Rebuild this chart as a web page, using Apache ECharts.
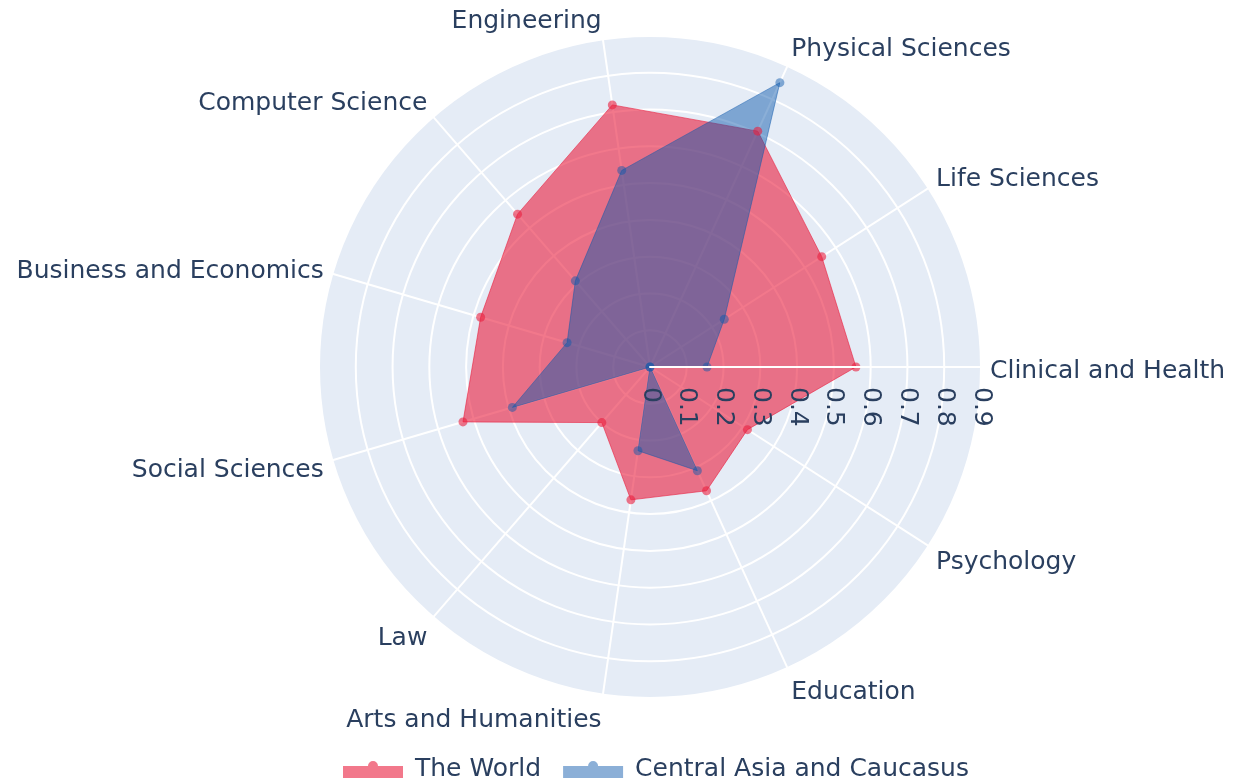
<!DOCTYPE html>
<html>
<head>
<meta charset="utf-8">
<title>The World vs Central Asia and Caucasus</title>
<script src="https://cdn.jsdelivr.net/npm/echarts@6.0.0/dist/echarts.min.js"></script>
<style>
    html, body { margin: 0; padding: 0; background: #fff; }
    #chart { width: 1250px; height: 781px; }
</style>
</head>
<body>
<div id="chart"></div>
<script>
'use strict';

var categories = ['Clinical and Health', 'Life Sciences', 'Physical Sciences', 'Engineering',
    'Computer Science', 'Business and Economics', 'Social Sciences', 'Law',
    'Arts and Humanities', 'Education', 'Psychology'];
var worldValues = [0.56, 0.555, 0.705, 0.72, 0.55, 0.48, 0.53, 0.20, 0.365, 0.37, 0.315];
var centralAsiaValues = [0.155, 0.24, 0.85, 0.54, 0.31, 0.235, 0.39, 0, 0.23, 0.31, 0];
var seriesNames = ['The World', 'Central Asia and Caucasus'];
var radialMax = 0.9;
var radialStep = 0.1;

var FONT = '"DejaVu Sans", Verdana, sans-serif';
var TEXT = '#2a3f5f';
var FONT_SIZE = 25;
var CENTER = [650, 367];
var RADIUS = 331;
var LEGEND_ICON = 'path://M0,6L25,6A5,5,0,0,1,35,6L60,6L60,18L0,18Z';

// plotly nudges the angular labels up in the top half and down in the bottom half;
// one rich style per spoke, padding moves the text by (top - bottom) / 2
var nameRich = {};
categories.forEach(function (name, i) {
    var s = Math.sin(i * 2 * Math.PI / categories.length);
    var shift = 4 - 13.5 * s;
    nameRich['a' + i] = {
        color: TEXT,
        fontSize: FONT_SIZE,
        fontFamily: FONT,
        padding: shift > 0 ? [2 * shift, 0, 0, 0] : [0, 0, -2 * shift, 0]
    };
});

var indicators = categories.map(function (name) {
    return {name: name, min: 0, max: radialMax};
});

function areaItem(name, values, color) {
    return {
        name: name,
        value: values,
        symbol: 'circle',
        symbolSize: 9,
        itemStyle: {color: color},
        lineStyle: {color: color, width: 1},
        areaStyle: {color: color, opacity: 1}
    };
}

var chart = echarts.init(document.getElementById('chart'));

chart.setOption({
    animation: false,
    textStyle: {fontFamily: FONT},
    legend: {
        left: 338,
        top: 752,
        icon: LEGEND_ICON,
        itemWidth: 60,
        itemHeight: 18,
        itemGap: 22,
        textStyle: {color: TEXT, fontSize: FONT_SIZE, fontFamily: FONT, padding: [0, 0, 0, 7]},
        data: seriesNames
    },
    radar: {
        center: CENTER,
        radius: RADIUS,
        startAngle: 0,
        shape: 'circle',
        splitNumber: 9,
        indicator: indicators,
        nameGap: 9,
        axisName: {
            color: TEXT,
            fontSize: FONT_SIZE,
            fontFamily: FONT,
            formatter: function (value) {
                return '{a' + categories.indexOf(value) + '|' + value + '}';
            },
            rich: nameRich
        },
        axisLine: {lineStyle: {color: '#fff', width: 2}},
        splitLine: {lineStyle: {color: '#fff', width: 2}},
        splitArea: {areaStyle: {color: ['#e5ecf6']}},
        axisTick: {show: false},
        axisLabel: {show: false}
    },
    // polar only carries the radial axis, drawn above the filled areas like plotly does
    polar: {center: CENTER, radius: RADIUS},
    angleAxis: {type: 'value', min: 0, max: 360, startAngle: 0, show: false},
    radiusAxis: {
        type: 'value',
        min: 0,
        max: radialMax,
        interval: radialStep,
        z: 5,
        axisLine: {lineStyle: {color: '#fff', width: 2}},
        axisTick: {show: false},
        splitLine: {show: false},
        axisLabel: {
            rotate: -90,
            margin: -20,
            align: 'left',
            verticalAlign: 'middle',
            color: TEXT,
            fontSize: FONT_SIZE,
            fontFamily: FONT
        }
    },
    series: [{
        type: 'radar',
        data: [
            areaItem(seriesNames[0], worldValues, 'rgba(234, 30, 62, 0.6)'),
            areaItem(seriesNames[1], centralAsiaValues, 'rgba(12, 88, 171, 0.48)')
        ]
    }]
});
</script>
</body>
</html>
